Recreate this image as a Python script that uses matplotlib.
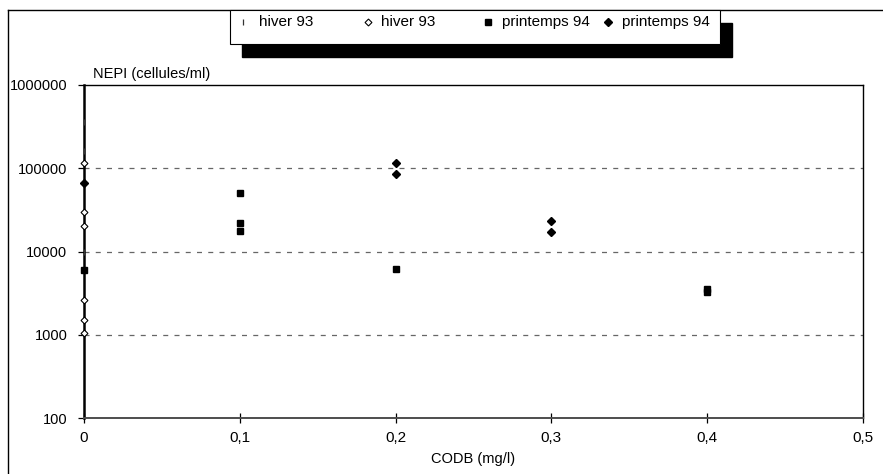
import matplotlib
matplotlib.use("Agg")
import matplotlib.pyplot as plt
from matplotlib.patches import Rectangle
from matplotlib.lines import Line2D

plt.rcParams['font.family'] = ['Liberation Sans', 'DejaVu Sans']

# NEPI (cells/ml) against CODB (mg/l)
hiver93_a_x = [0, 0, 0]
hiver93_a_y = [360000, 160000, 10000]

hiver93_b_x = [0, 0, 0, 0, 0, 0]
hiver93_b_y = [115000, 30000, 20000, 2600, 1500, 1050]

printemps94_a_x = [0, 0.1, 0.1, 0.1, 0.2, 0.4, 0.4]
printemps94_a_y = [6000, 50000, 22000, 17600, 6200, 3300, 3550]

printemps94_b_x = [0, 0.2, 0.2, 0.3, 0.3]
printemps94_b_y = [66000, 116000, 85000, 23200, 17100]

series_labels = ["hiver 93", "hiver 93", "printemps 94", "printemps 94"]
x_ticks = [0, 0.1, 0.2, 0.3, 0.4, 0.5]
x_tick_labels = ["0", "0,1", "0,2", "0,3", "0,4", "0,5"]
y_ticks = [100, 1000, 10000, 100000, 1000000]
y_tick_labels = ["100", "1000", "10000", "100000", "1000000"]

W, H = 883, 474
fig = plt.figure(figsize=(W / 100, H / 100), dpi=100)
ax = fig.add_axes([84 / W, 1 - 418 / H, (863 - 84) / W, (418 - 85) / H])

ax.set_yscale('log')
ax.set_xlim(0, 0.5)
ax.set_ylim(100, 1000000)

for yv in [1000, 10000, 100000]:
    ax.axhline(yv, color='0.4', lw=0.9, ls=(0, (4, 5)), zorder=1)

styles = [
    dict(marker='|', ms=4, mew=0.9, color='0.2'),
    dict(marker='D', ms=3.5, mew=0.8, mfc='white', mec='black', color='black'),
    dict(marker='s', ms=5, color='black'),
    dict(marker='D', ms=4.5, color='black'),
]
series = [
    (hiver93_a_x, hiver93_a_y),
    (hiver93_b_x, hiver93_b_y),
    (printemps94_a_x, printemps94_a_y),
    (printemps94_b_x, printemps94_b_y),
]
for (xs, ys), st, lab in zip(series, styles, series_labels):
    ax.plot(xs, ys, ls='none', clip_on=False, zorder=5, label=lab, **st)

ax.set_xticks(x_ticks)
ax.set_xticklabels(x_tick_labels)
ax.set_yticks(y_ticks)
ax.set_yticklabels(y_tick_labels)
ax.minorticks_off()
ax.tick_params(axis='x', direction='inout', length=7, width=0.9, pad=6, labelsize=11)
ax.tick_params(axis='y', direction='out', length=4, width=0.9, pad=8, labelsize=10.5)

for side in ['top', 'right']:
    ax.spines[side].set_linewidth(1.0)
ax.spines['left'].set_linewidth(1.8)
ax.spines['bottom'].set_linewidth(1.4)
ax.spines['bottom'].set_color('0.3')

ax.text(0.011, 1.012, "NEPI (cellules/ml)", transform=ax.transAxes,
        ha='left', va='bottom', fontsize=10.5)
ax.set_xlabel("CODB (mg/l)", fontsize=10.5, labelpad=5)

# page frame
fig.add_artist(Line2D([8 / W, 1], [1 - 10 / H, 1 - 10 / H], transform=fig.transFigure,
                      color='black', lw=1.0))
fig.add_artist(Line2D([8 / W, 8 / W], [0, 1 - 10 / H], transform=fig.transFigure,
                      color='black', lw=1.0))

# legend box with a solid offset shadow
bx0, by0, bx1, by1 = 230, 10, 720, 44
fig.add_artist(Rectangle(((bx0 + 12) / W, 1 - (by1 + 13) / H), (bx1 - bx0) / W,
                         (by1 - by0) / H, transform=fig.transFigure,
                         facecolor='black', edgecolor='black', zorder=3))
fig.add_artist(Rectangle((bx0 / W, 1 - by1 / H), (bx1 - bx0) / W, (by1 - by0) / H,
                         transform=fig.transFigure, facecolor='white',
                         edgecolor='black', lw=0.8, zorder=4))
marker_px = [243, 368, 488, 608]
text_px = [259, 381, 502, 622]
ly = 1 - 22 / H
for mx, tx, st, lab in zip(marker_px, text_px, styles, series_labels):
    fig.add_artist(Line2D([mx / W], [ly], transform=fig.transFigure, ls='none',
                          zorder=6, **st))
    fig.text(tx / W, ly, lab, ha='left', va='center', fontsize=11, zorder=6)

fig.savefig("out.png", dpi=100)
